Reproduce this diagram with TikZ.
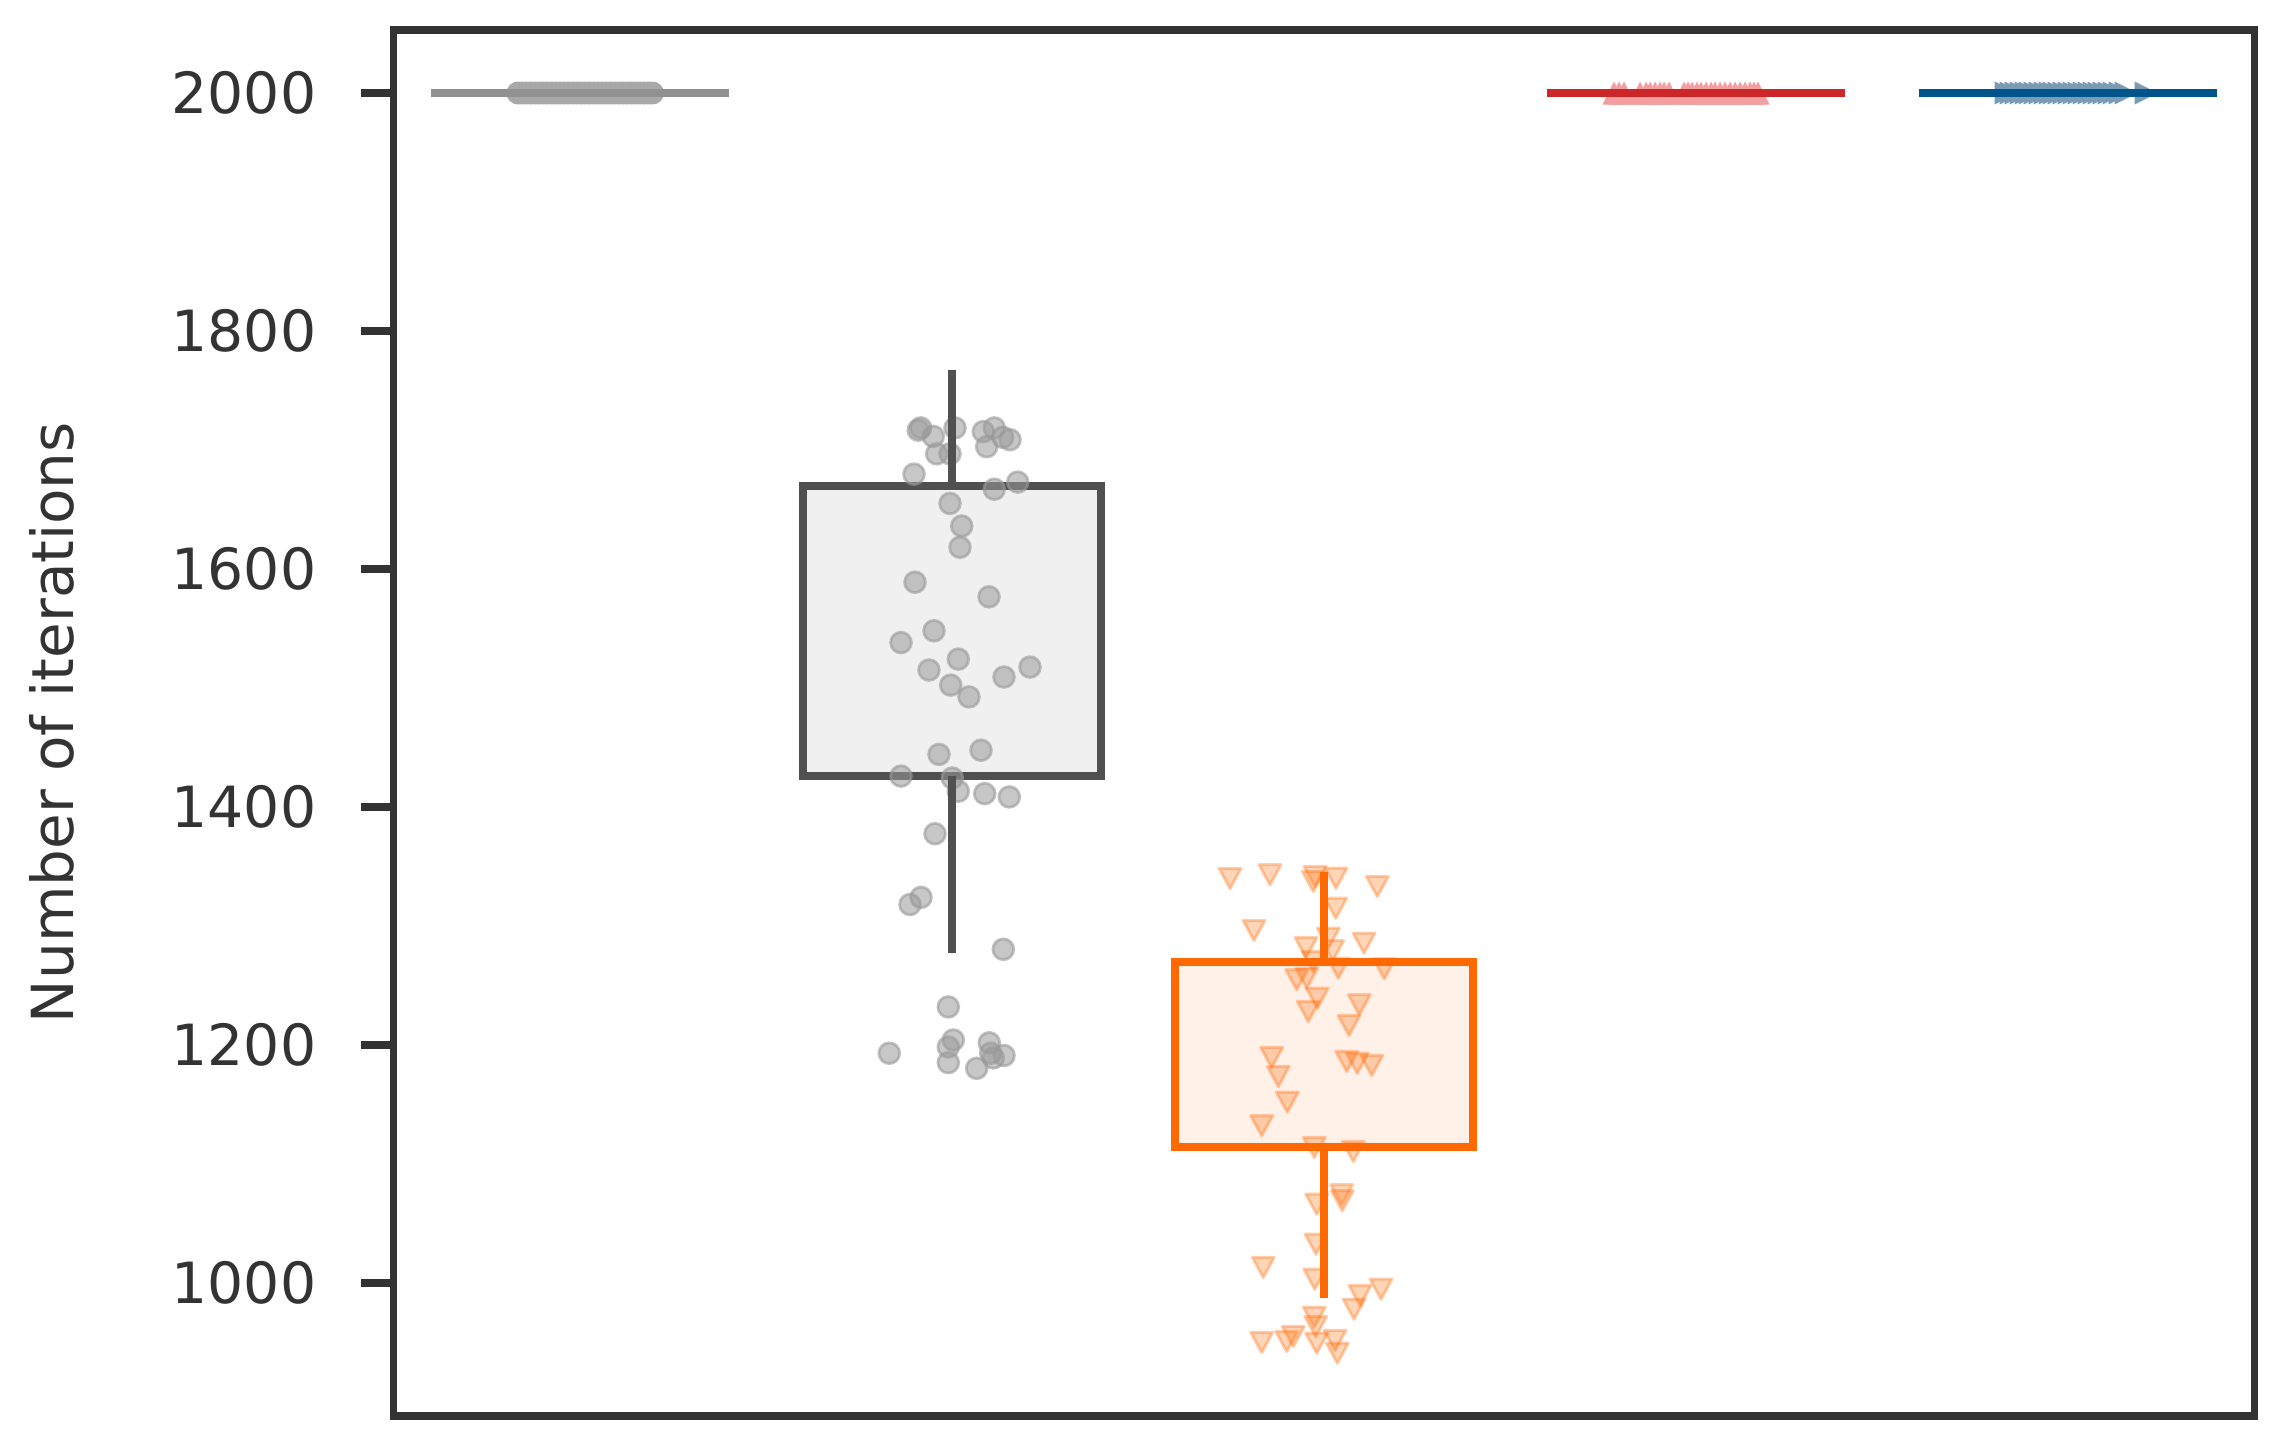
\documentclass[tikz,border=0pt]{standalone}
\usepackage{fontspec}
\setmainfont{DejaVu Sans}
\definecolor{axc}{RGB}{51,51,51}
\definecolor{gline}{RGB}{145,145,145}
\definecolor{gmk}{RGB}{168,168,168}
\definecolor{gedge}{RGB}{80,80,80}
\definecolor{gfill}{RGB}{240,240,240}
\definecolor{gpt}{RGB}{154,154,154}
\definecolor{orc}{RGB}{255,105,0}
\definecolor{orfill}{RGB}{255,240,232}
\definecolor{redc}{RGB}{205,38,42}
\definecolor{redmk}{RGB}{244,158,160}
\definecolor{bluc}{RGB}{0,84,140}
\definecolor{blumk}{RGB}{120,156,182}
\newcommand\gdot[2]{\path[gptst] (#1,#2) circle[radius=10.4];}
\newcommand\otri[2]{\path[optst] (#1,#2) ++(-11,1.4) -- ++(22,0) -- ++(-11,20.2) -- cycle;}
\begin{document}
\begin{tikzpicture}[x=0.25pt,y=-0.25pt,
  frame/.style={draw=axc,line width=1.9pt},
  tickmark/.style={draw=axc,line width=2pt},
  ticklab/.style={anchor=east,inner sep=0pt,text=axc,font=\fontsize{14.2pt}{17pt}\selectfont},
  axlab/.style={rotate=90,anchor=south,inner sep=0pt,text=axc,font=\fontsize{14.5pt}{17pt}\selectfont},
  boxg/.style={draw=gedge,fill=gfill,line width=2pt},
  boxo/.style={draw=orc,fill=orfill,line width=2pt},
  whg/.style={draw=gedge,line width=2pt},
  who/.style={draw=orc,line width=2pt},
  topline/.style={line width=1.95pt},
  gptst/.style={fill=gpt,draw=gpt,fill opacity=0.55,draw opacity=0.6,line width=0.7pt},
  optst/.style={fill=orc,draw=orc,fill opacity=0.28,draw opacity=0.32,line width=0.75pt,line join=round}
]
\useasboundingbox (0,0) rectangle (2283,1446);
\fill[white] (0,0) rectangle (2283,1446);

% boxes (patches)
\path[boxg] (802.8,485.8) rectangle (1101.3,775.6);
\path[boxo] (1175,962) rectangle (1472.7,1147);

% markers at 2000
\foreach \i in {0,...,32} \fill[gmk] ({518+\i*4.2},93) circle[radius=11.5];
\foreach \xx in {1614,1619,1624,1640,1646,1650,1655,1660,1664,1669,1684,1688,1692,1697,1701,1706,1711,1715,1720,1725,1730,1735,1740,1745,1750,1754,1758}
  \fill[redmk] (\xx,93) ++(0,-11.5) -- ++(11.5,23) -- ++(-23,0) -- cycle;
\foreach \xx in {2006,2011,2016,2021,2026,2030,2035,2040,2045,2050,2054,2059,2064,2069,2074,2079,2084,2089,2094,2099,2104,2109,2114,2120,2126,2146}
  \fill[blumk] (\xx,93) ++(11.5,0) -- ++(-23,-11.5) -- ++(0,23) -- cycle;

% gray points
\foreach \px/\py in {920.7/427.9,918.3/430.2,933.3/436.4,955/427.9,983.3/431.6,994.3/427.9,1002.7/437.3,1010/439.7,936.7/453.8,950/453.8,986.7/446.7,914/474.1,994.3/489.2,1017.7/482.1,950/503.4,961.7/526,960/547.3,915/582.2,989/596.8,934/630.8,901/642.6,958.3/659.1,929/670,1004/677,1030/667.1,950.7/685.1,969/696.9,939/754.4,981/750.2,901/776.1,952.3/778,958.3/791.2,984.7/793.6,1009.3/796.9,935/833.7,921/897.4,910/904.5,1003.3/949.3,948.3/1006.9,889.3/1053.2,953.3/1040,948.3/1047,989.3/1042.8,990.7/1053.2,1004/1055.5,948.3/1062.6,976.7/1068.3,993.3/1057.9}
  {\gdot{\px}{\py}}

% orange points (x, top edge)
\foreach \px/\py in {1230/867,1270/863.3,1313.3/870,1315/865,1336/866.7,1377.3/875,1335.7/896.7,1254/919,1328.3/926.7,1306/936,1332.7/939.3,1364/931.7,1313.3/950,1338.3/956.7,1384.3/957.3,1296.7/968.3,1306.7/966.7,1317.3/986.7,1308.3/1000,1359.3/993.3,1349/1014,1271.7/1046,1278.3/1065,1346.7/1050,1357.3/1051.7,1371.7/1054,1287.3/1090.7,1261.7/1114.3,1314.3/1136,1353.3/1140,1341.7/1183.3,1342.3/1189.3,1316.7/1192.7,1316/1232.7,1263.3/1256,1314.7/1267.7,1381/1277.7,1360/1284,1354/1297.7,1314.3/1305.7,1315.7/1315,1261.7/1331,1293.3/1325,1286.7/1330,1316.7/1331.7,1335/1329,1337.3/1341.7}
  {\otri{\px}{\py}}

% whiskers
\draw[whg] (951.7,369.8) -- (951.7,485.8);
\draw[whg] (951.7,775.6) -- (951.7,953);
\draw[who] (1323.7,871.7) -- (1323.7,962);
\draw[who] (1323.7,1147) -- (1323.7,1298);

% lines at 2000
\draw[topline,gline] (431,93) -- (729,93);
\draw[topline,redc] (1547,93) -- (1845,93);
\draw[topline,bluc] (1919,93) -- (2217,93);

% ticks and labels
\foreach \k/\lab in {0/2000,1/1800,2/1600,3/1400,4/1200,5/1000} {
  \draw[tickmark] (361,{92.7+\k*238}) -- (393.5,{92.7+\k*238});
  \node[ticklab] (t\k) at (317,{92.7+\k*238}) {\lab};
}
\node[axlab] (ylab) at (75,722.5) {Number of iterations};

% frame
\draw[frame] (393.5,29.7) rectangle (2254.5,1416);
\end{tikzpicture}
\end{document}
